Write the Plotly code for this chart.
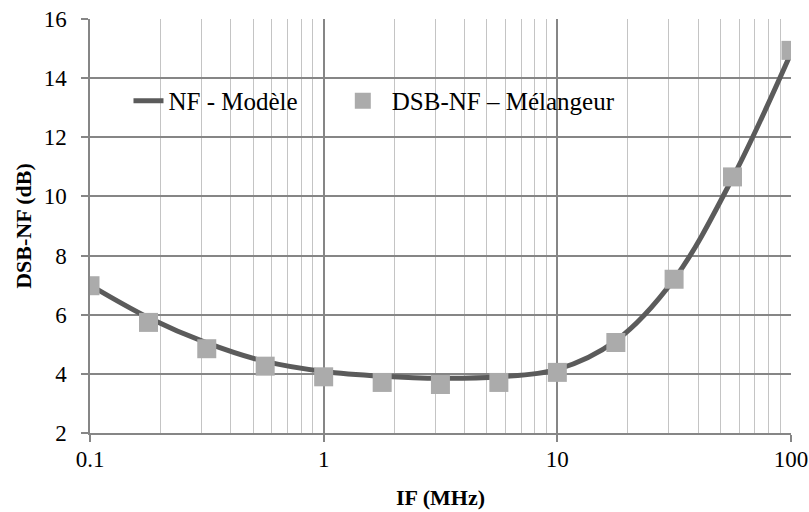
import plotly.graph_objects as go

# Data
if_mhz = [0.1, 0.178, 0.316, 0.562, 1.0, 1.78, 3.16, 5.62, 10.0, 17.8, 31.6, 56.2, 100.0]
nf_model = [7.0, 5.9, 5.05, 4.42, 4.08, 3.92, 3.85, 3.90, 4.15, 5.12, 7.2, 10.62, 14.85]
dsb_nf_mixer = [6.98, 5.74, 4.85, 4.26, 3.90, 3.71, 3.64, 3.71, 4.05, 5.06, 7.2, 10.66, 14.94]

x_ticks = [0.1, 1, 10, 100]
x_tick_labels = ["0.1", "1", "10", "100"]

FONT = "Liberation Serif"
MAJOR = "#868686"
MINOR = "#c4c4c4"

fig = go.Figure()
fig.add_trace(go.Scatter(
    x=if_mhz, y=nf_model, mode="lines", name="NF - Modèle",
    line=dict(color="#5b5b5b", width=5, shape="spline", smoothing=1.0),
    legend="legend", showlegend=True,
))
fig.add_trace(go.Scatter(
    x=if_mhz, y=dsb_nf_mixer, mode="markers", name="DSB-NF – Mélangeur",
    marker=dict(symbol="square", size=19, color="#ababab", line=dict(width=0)),
    legend="legend2", showlegend=True,
))

fig.update_layout(
    width=809, height=512,
    margin=dict(l=89.5, r=18, t=19, b=79),
    paper_bgcolor="white", plot_bgcolor="white",
    font=dict(family=FONT, size=23, color="black"),
    showlegend=True,
    legend=dict(
        x=0.0549, y=0.802, xanchor="left", yanchor="middle", visible=True,
        bgcolor="rgba(0,0,0,0)", font=dict(size=25, family=FONT),
    ),
    legend2=dict(
        x=0.3478, y=0.802, xanchor="left", yanchor="middle", visible=True,
        bgcolor="rgba(0,0,0,0)", font=dict(size=25, family=FONT), itemwidth=48,
    ),
)
fig.update_xaxes(
    type="log", range=[-1, 2], automargin=False,
    tickvals=x_ticks, ticktext=x_tick_labels,
    showgrid=True, gridcolor=MAJOR, gridwidth=1.5,
    minor=dict(dtick="D1", showgrid=True, gridcolor=MINOR, gridwidth=1.2, ticks=""),
    showline=True, linecolor=MAJOR, linewidth=1.5,
    ticks="outside", ticklen=7, tickcolor=MAJOR, tickwidth=1.5,
    ticklabelstandoff=-2,
    zeroline=False,
    title=dict(text="<b>IF (MHz)</b>", font=dict(size=22, family=FONT), standoff=18),
)
fig.update_yaxes(
    range=[2, 16], dtick=2, tick0=2, automargin=False,
    showgrid=True, gridcolor=MAJOR, gridwidth=1.5,
    showline=True, linecolor=MAJOR, linewidth=1.5,
    ticks="outside", ticklen=7, tickcolor=MAJOR, tickwidth=1.5,
    ticklabelstandoff=10,
    zeroline=False,
    title=dict(text="<b>DSB-NF (dB)</b>", font=dict(size=22, family=FONT), standoff=6),
)

fig.write_html("out.html", config={"displayModeBar": False},
               post_script="document.body.style.margin='0px';")
